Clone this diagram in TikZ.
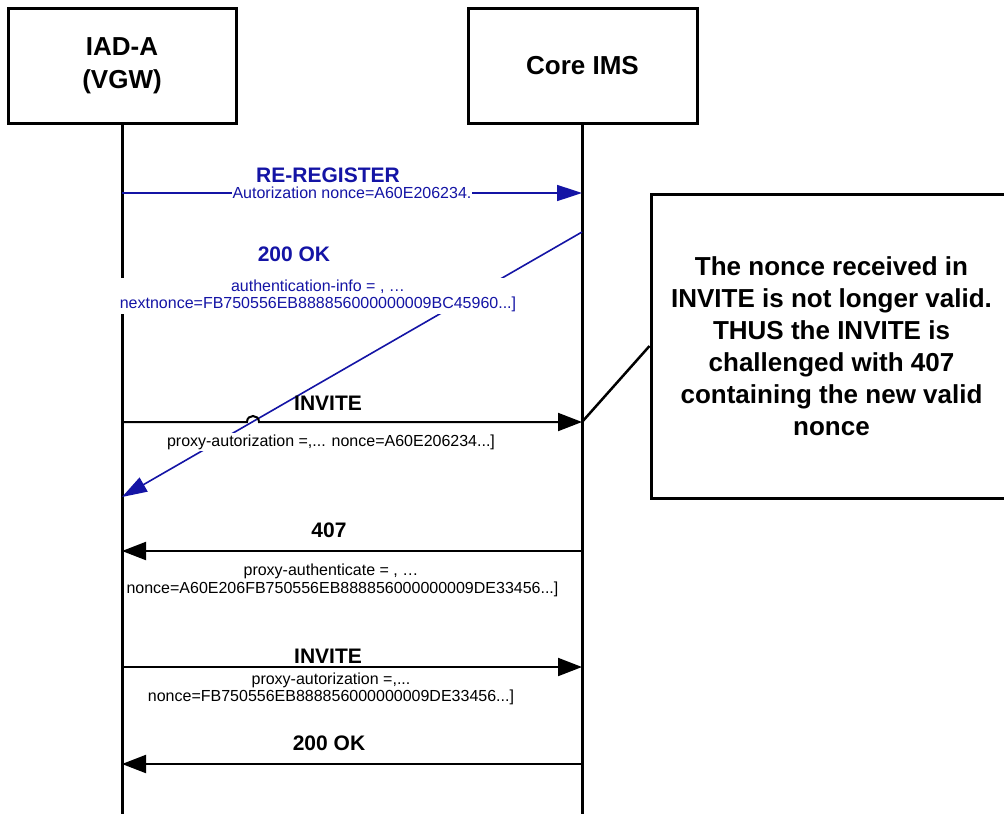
\documentclass[tikz,border=0pt]{standalone}
\usepackage{fontspec}
\setmainfont{Liberation Sans}
\usetikzlibrary{arrows.meta}
\definecolor{msgblue}{RGB}{20,20,165}
\begin{document}
\begin{tikzpicture}[x=1pt,y=-1pt,
  actor/.style={draw,line width=3pt,fill=white,minimum width=228pt,minimum height=115pt,align=center,font=\bfseries\fontsize{26}{33}\selectfont},
  notebox/.style={draw,line width=3pt,fill=white,minimum width=361pt,minimum height=304pt,align=center,font=\bfseries\fontsize{26}{32}\selectfont},
  lifeline/.style={line width=3pt},
  msg/.style={line width=2pt,-{Triangle[length=24pt,width=18pt]}},
  bmsg/.style={line width=1.6pt,msgblue,-{Triangle[length=25pt,width=16pt]}},
  callout/.style={line width=2.5pt},
  lbl/.style={font=\bfseries\fontsize{21}{24}\selectfont,inner sep=1pt},
  blbl/.style={lbl,text=msgblue},
  small/.style={font=\fontsize{16}{17}\selectfont,fill=white,inner sep=2pt,align=center},
  bsmall/.style={small,text=msgblue},
]
\clip (0,0) rectangle (1004,814);
\fill[white] (0,0) rectangle (1004,814);

% actors
\node[actor] (iad) at (122,65.5) {IAD-A\\(VGW)};
\node[actor,minimum width=229pt] (core) at (582.5,65.5) {Core IMS};
\coordinate (iadEnd) at (122,814);
\coordinate (coreEnd) at (582,814);
\draw[lifeline] (iad.south) -- (iadEnd);
\draw[lifeline] (core.south -| coreEnd) -- (coreEnd);

% endpoints
\coordinate (a1) at (122,193); \coordinate (b1) at (582,193);
\coordinate (b2) at (582,232); \coordinate (a2) at (122,497);
\coordinate (a3) at (122,422); \coordinate (b3) at (582,422);
\coordinate (h1) at (247,422); \coordinate (h2) at (259,422);
\coordinate (a4) at (122,551); \coordinate (b4) at (582,551);
\coordinate (a5) at (122,667); \coordinate (b5) at (582,667);
\coordinate (a6) at (122,764); \coordinate (b6) at (582,764);

% note
\node[notebox] (note) at (831.5,346) {The nonce received in\\INVITE is not longer valid.\\THUS the INVITE is\\challenged with 407\\containing the new valid\\nonce};

% messages
\draw[bmsg] (a1) -- (b1);
\draw[bmsg] (b2) -- (a2);
\draw[msg] (a3) -- (h1) .. controls (247,414) and (259,414) .. (h2) -- (b3);
\draw[callout] (b3) -- (note.west);
\draw[msg] (b4) -- (a4);
\draw[msg] (a5) -- (b5);
\draw[msg] (b6) -- (a6);

% labels
\node[blbl] (l1) at (328,175) {RE-REGISTER};
\node[bsmall,inner sep=1pt] (t1) at (352,193) {Autorization nonce=A60E206234.};
\node[blbl] (l2) at (294,254) {200 OK};
\node[bsmall] (t2) at (318,296) {authentication-info = , …\\nextnonce=FB750556EB888856000000009BC45960...]};
\node[lbl] (l3) at (328,403) {INVITE};
\node[small] (t3) at (331,442) {proxy-autorization =,... nonce=A60E206234...]};
\node[lbl] (l4) at (329,530) {407};
\node[small] (t4a) at (331,571) {proxy-authenticate = , …};
\node[small] (t4b) at (342.5,589) {nonce=A60E206FB750556EB888856000000009DE33456...]};
\node[lbl] (l5) at (328,656) {INVITE};
\node[small,fill=none] (t5) at (331,689) {proxy-autorization =,...\\nonce=FB750556EB888856000000009DE33456...]};
\node[lbl] (l6) at (329,743) {200 OK};
\end{tikzpicture}
\end{document}
